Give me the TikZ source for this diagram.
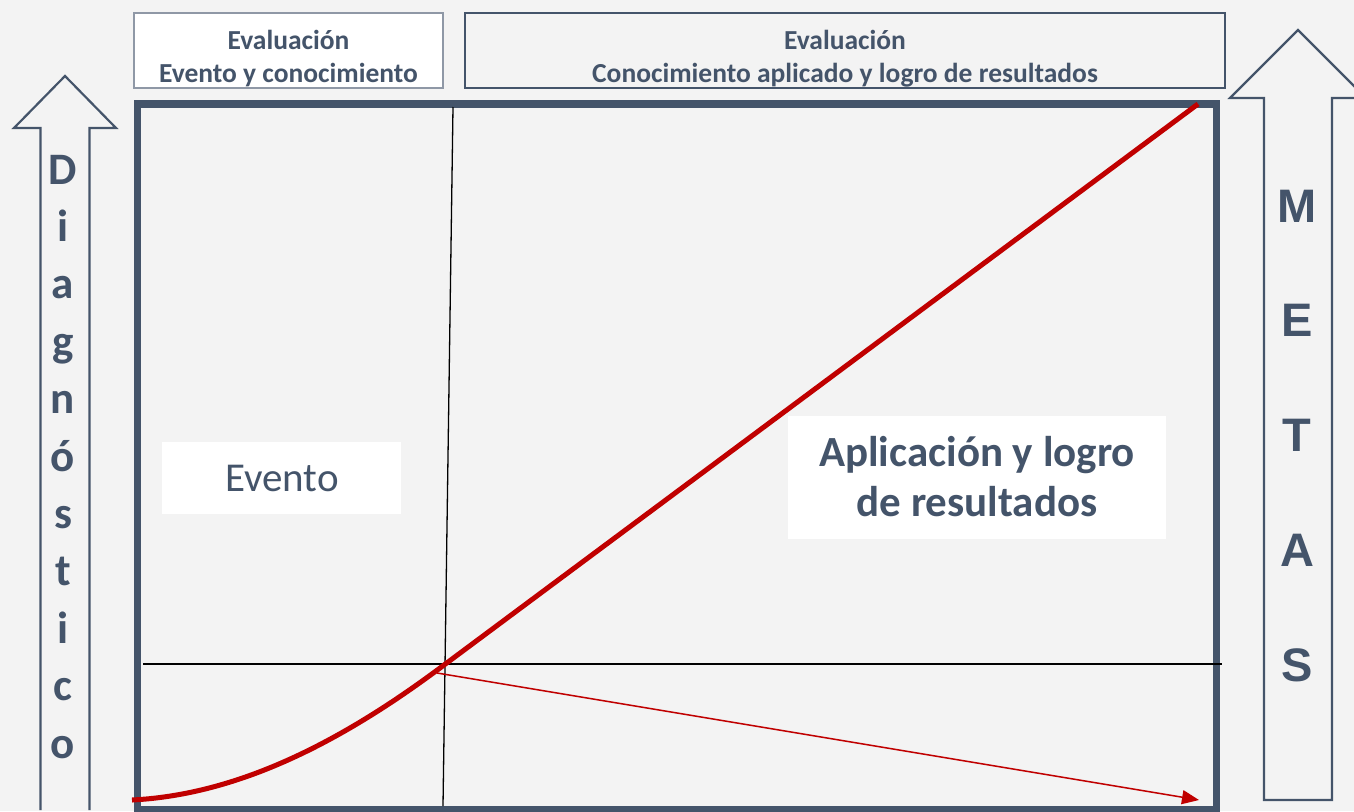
\documentclass[tikz,border=0pt]{standalone}
\usepackage{fontspec}
\setmainfont{Carlito}
\newfontfamily\arialf{Liberation Sans}
\usetikzlibrary{arrows.meta}
\definecolor{slate}{HTML}{44546A}
\definecolor{bgc}{HTML}{F3F3F3}
\definecolor{redc}{HTML}{C00000}
\tikzset{
  hdr/.style={anchor=base, text=slate, font=\bfseries\fontsize{27.5}{30}\selectfont, inner sep=0},
  big/.style={anchor=base, text=slate, font=\bfseries\fontsize{43}{46}\selectfont, inner sep=0},
  diag/.style={anchor=base, text=slate, font=\bfseries\fontsize{45}{50}\selectfont, inner sep=0},
  meta/.style={anchor=base, text=slate, font=\arialf\bfseries\fontsize{47}{52}\selectfont, inner sep=0},
  bigarrow/.style={draw=slate, line width=2.2pt, fill=bgc, line join=miter},
  guide/.style={draw=black, line width=1.3pt},
}
\begin{document}
\begin{tikzpicture}[x=1pt,y=-1pt]
\useasboundingbox (0,0) rectangle (1354,811);
\fill[bgc] (0,0) rectangle (1354,811);
% block arrows
\draw[bigarrow] (40.5,810) -- (40.5,128) -- (14,128) -- (65,76) -- (116,128) -- (89.5,128) -- (89.5,810);
\draw[bigarrow] (1264,800) -- (1264,98) -- (1230,98) -- (1298,30) -- (1366,98) -- (1332,98) -- (1332,800) -- cycle;
% header boxes
\draw[draw=slate!60, line width=1.2pt, fill=white] (134,13) rectangle (443,88);
\draw[draw=slate, line width=2.2pt, fill=bgc] (465,13) rectangle (1225,88);
\node[hdr] (h1a) at (288.5,49) {Evaluación};
\node[hdr] (h1b) at (288.5,82) {Evento y conocimiento};
\node[hdr] (h2a) at (845,49) {Evaluación};
\node[hdr] (h2b) at (845,82) {Conocimiento aplicado y logro de resultados};
% main frame
\draw[slate, line width=7.5pt] (137.5,104) rectangle (1216.5,809.5);
% guide lines
\coordinate (vtop) at (453,107);
\coordinate (vbot) at (443,806);
\coordinate (hl) at (143,664);
\coordinate (hr) at (1222,664);
\draw[guide] (vtop) -- (vbot);
\draw[guide] (hl) -- (hr);
% label boxes
\fill[white] (162,442) rectangle (401,514);
\node[anchor=base, text=slate, font=\fontsize{41}{46}\selectfont, inner sep=0] (ev) at (282,491) {Evento};
\fill[white] (788,416) rectangle (1166,539);
\node[big] (ap1) at (977,466) {Aplicación y logro};
\node[big] (ap2) at (977,516) {de resultados};
% curves
\coordinate (c0) at (132,800);
\coordinate (c1) at (440,668);
\coordinate (c2) at (1198,104);
\draw[redc, line width=5pt] (c0) .. controls (230,795) and (330,750) .. (c1) -- (c2);
\coordinate (r0) at (437,673);
\coordinate (r1) at (1199,800);
\draw[redc, line width=1.5pt, -{Triangle[length=17pt,width=14pt]}] (r0) -- (r1);
% Diagnostico letters
\foreach \ch [count=\k from 0] in {D,i,a,g,n,ó,s,t,i,c,o} {
  \node[diag] (d\k) at (63,184+57.4*\k) {\ch};
}
% METAS letters
\foreach \ch [count=\k from 0] in {M,E,T,A,S} {
  \node[meta] (m\k) at (1297,222+114.75*\k) {\ch};
}
\end{tikzpicture}
\end{document}
